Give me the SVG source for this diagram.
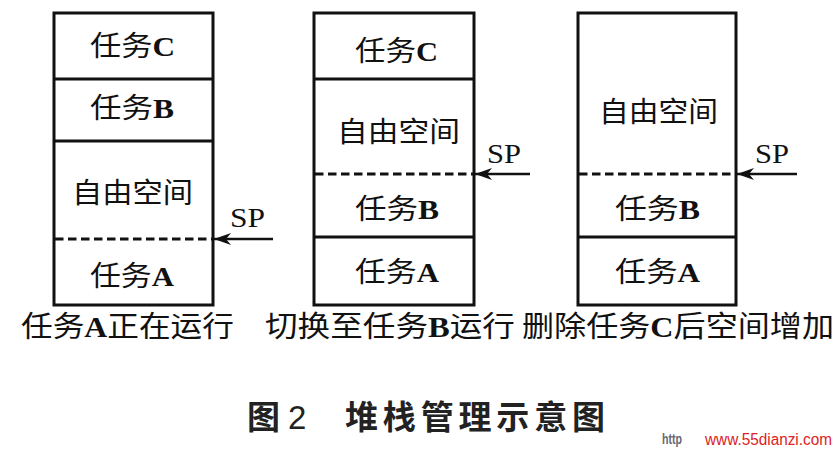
<svg xmlns="http://www.w3.org/2000/svg" width="840" height="451" viewBox="0 0 840 451">
<style>
.box{fill:none;stroke:#111;stroke-width:3}
.div{stroke:#111;stroke-width:3}
.dash{stroke:#111;stroke-width:2.8;stroke-dasharray:8.5 4.5}
.arr{stroke:#111;stroke-width:2.5}
.lbl{font-family:"Liberation Serif","Noto Sans CJK SC",serif;font-size:28px;fill:#111}
.cap{font-family:"Liberation Serif","Noto Sans CJK SC",serif;font-size:29px;fill:#111}
.b{font-weight:bold}
.title{font-family:"Noto Sans CJK SC","Liberation Sans",sans-serif;font-size:33px;font-weight:bold;fill:#222}
.num{font-family:"Liberation Sans",sans-serif;font-size:33px;font-weight:normal;fill:#222}
</style>
<defs>
<marker id="ah" markerWidth="18" markerHeight="12" refX="17" refY="6" orient="auto" markerUnits="userSpaceOnUse">
<path d="M17,6 L0,0 L5,6 L0,12 Z" fill="#111"/>
</marker>
</defs>
<rect width="840" height="451" fill="#fff"/>
<g id="stack1">
<rect class="box" x="54" y="13" width="159" height="292"/>
<line class="div" x1="54" y1="79" x2="213" y2="79"/>
<line class="div" x1="54" y1="141" x2="213" y2="141"/>
<line class="dash" x1="55" y1="239" x2="212" y2="239"/>
<text class="lbl" x="90" y="56" textLength="85" lengthAdjust="spacingAndGlyphs">任务<tspan class="b">C</tspan></text>
<text class="lbl" x="90" y="118" textLength="84" lengthAdjust="spacingAndGlyphs">任务<tspan class="b">B</tspan></text>
<text class="lbl" x="72" y="203" textLength="121" lengthAdjust="spacingAndGlyphs">自由空间</text>
<text class="lbl" x="90" y="286" textLength="84" lengthAdjust="spacingAndGlyphs">任务<tspan class="b">A</tspan></text>
</g>
<g id="stack2">
<rect class="box" x="314" y="13" width="160" height="292"/>
<line class="div" x1="314" y1="79" x2="474" y2="79"/>
<line class="div" x1="314" y1="237" x2="474" y2="237"/>
<line class="dash" x1="315" y1="174" x2="473" y2="174"/>
<text class="lbl" x="355" y="61" textLength="83" lengthAdjust="spacingAndGlyphs">任务<tspan class="b">C</tspan></text>
<text class="lbl" x="337" y="142" textLength="123" lengthAdjust="spacingAndGlyphs">自由空间</text>
<text class="lbl" x="355" y="219" textLength="84" lengthAdjust="spacingAndGlyphs">任务<tspan class="b">B</tspan></text>
<text class="lbl" x="355" y="282" textLength="84" lengthAdjust="spacingAndGlyphs">任务<tspan class="b">A</tspan></text>
</g>
<g id="stack3">
<rect class="box" x="578" y="13" width="158" height="292"/>
<line class="div" x1="578" y1="237" x2="736" y2="237"/>
<line class="dash" x1="579" y1="174" x2="735" y2="174"/>
<text class="lbl" x="599" y="122" textLength="119" lengthAdjust="spacingAndGlyphs">自由空间</text>
<text class="lbl" x="615" y="219" textLength="85" lengthAdjust="spacingAndGlyphs">任务<tspan class="b">B</tspan></text>
<text class="lbl" x="615" y="282" textLength="85" lengthAdjust="spacingAndGlyphs">任务<tspan class="b">A</tspan></text>
</g>
<g id="connectors">
<line class="arr" x1="273" y1="239" x2="214" y2="239" marker-end="url(#ah)"/>
<line class="arr" x1="530" y1="174" x2="475" y2="174" marker-end="url(#ah)"/>
<line class="arr" x1="797" y1="174" x2="737" y2="174" marker-end="url(#ah)"/>
</g>
<g id="sp-labels">
<text class="lbl" x="230" y="227" textLength="35" lengthAdjust="spacingAndGlyphs">SP</text>
<text class="lbl" x="487" y="163" textLength="34" lengthAdjust="spacingAndGlyphs">SP</text>
<text class="lbl" x="755" y="163" textLength="34" lengthAdjust="spacingAndGlyphs">SP</text>
</g>
<g id="captions">
<text class="cap" x="21" y="337" textLength="213" lengthAdjust="spacingAndGlyphs">任务<tspan class="b">A</tspan>正在运行</text>
<text class="cap" x="265" y="337" textLength="250" lengthAdjust="spacingAndGlyphs">切换至任务<tspan class="b">B</tspan>运行</text>
<text class="cap" x="522" y="337" textLength="312" lengthAdjust="spacingAndGlyphs">删除任务<tspan class="b">C</tspan>后空间增加</text>
</g>
<g id="title">
<text class="title" x="247" y="429">图</text>
<text class="num" x="288" y="429">2</text>
<text class="title" x="345" y="429" textLength="260" lengthAdjust="spacing">堆栈管理示意图</text>
</g>
<g id="watermark">
<text x="662" y="444" font-family="Liberation Sans" font-size="14" font-weight="bold" fill="#667" textLength="20" lengthAdjust="spacingAndGlyphs">http</text>
<text x="705" y="445" font-family="Liberation Sans" font-size="16" fill="#d22" textLength="127" lengthAdjust="spacingAndGlyphs">www.55dianzi.com</text>
</g>
</svg>
